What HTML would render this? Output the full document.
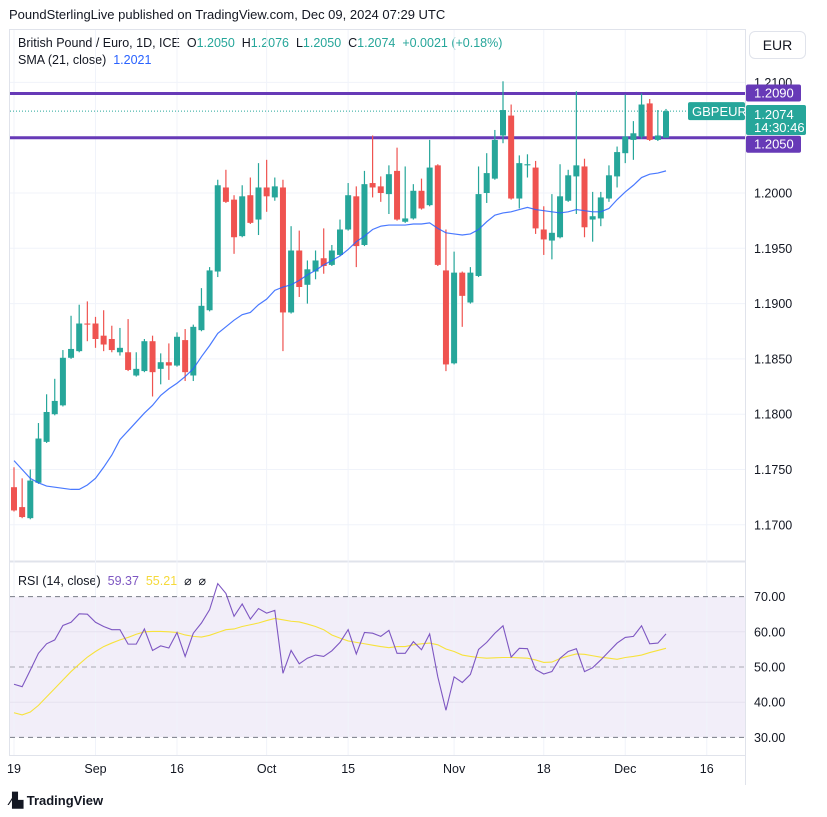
<!DOCTYPE html>
<html><head><meta charset="utf-8">
<style>
body{margin:0;background:#fff;font-family:"Liberation Sans",sans-serif;}
#wrap{position:relative;width:827px;height:817px;overflow:hidden;background:#fff;}
.t{position:absolute;white-space:nowrap;color:#131722;}
</style></head><body>
<div id="wrap">
<div class="t" style="left:9px;top:7px;font-size:13px;">PoundSterlingLive published on TradingView.com, Dec 09, 2024 07:29 UTC</div>
<div class="t" style="left:18px;top:36px;font-size:12.5px;">British Pound / Euro, 1D, ICE &nbsp;<span>O</span><span style="color:#26a69a">1.2050</span> &nbsp;<span>H</span><span style="color:#26a69a">1.2076</span> &nbsp;<span>L</span><span style="color:#26a69a">1.2050</span> &nbsp;<span>C</span><span style="color:#26a69a">1.2074</span> &nbsp;<span style="color:#26a69a">+0.0021 (+0.18%)</span></div>
<div class="t" style="left:18px;top:53px;font-size:12.5px;">SMA (21, close) &nbsp;<span style="color:#2962ff">1.2021</span></div>
<div class="t" style="left:18px;top:573px;font-size:12.5px;">RSI (14, close) &nbsp;<span style="color:#7e57c2">59.37</span> &nbsp;<span style="color:#f5d93a">55.21</span> &nbsp;⌀ &nbsp;⌀</div>
<div class="t" style="left:749px;top:31px;width:55px;height:26px;border:1px solid #e0e3eb;border-radius:6px;font-size:14px;line-height:26px;text-align:center;">EUR</div>
<svg id="svg" width="827" height="817" style="position:absolute;left:0;top:0;pointer-events:none"></svg>
<div class="t" style="left:10px;top:792px;font-size:13px;font-weight:bold;"><span style="font-size:14px;">⁄▙</span> TradingView</div>
</div>
<script>
const categories=["19","Sep","16","Oct","15","Nov","18","Dec","16"];
const catIndex=[0,10,20,31,41,54,65,75,85];
const opens=[1.1734,1.1716,1.1706,1.1738,1.1775,1.1800,1.1808,1.1851,1.1857,1.1882,1.1882,1.1871,1.1868,1.1856,1.1856,1.1835,1.1839,1.1866,1.1841,1.1847,1.1844,1.1867,1.1835,1.1876,1.1894,1.1929,1.2005,1.1994,1.1961,1.1998,1.1976,1.2005,1.1996,1.2005,1.1892,1.1948,1.1917,1.1929,1.1941,1.1935,1.1944,1.1967,1.1997,1.1953,1.2009,1.2006,1.1999,1.2020,1.1974,1.1977,1.2002,1.1989,1.2025,1.1930,1.1846,1.1928,1.1901,1.1925,1.2000,1.2013,1.2052,1.2070,1.1995,1.2025,1.2023,1.1967,1.1957,1.1960,1.1993,1.2015,1.2024,1.1976,1.1977,1.1995,1.2015,1.2036,1.2048,1.2051,1.2081,1.2048,1.2050];
const highs=[1.1752,1.1742,1.1750,1.1792,1.1818,1.1832,1.1858,1.1889,1.1899,1.1902,1.1888,1.1894,1.1880,1.1878,1.1886,1.1856,1.1868,1.1871,1.1855,1.1864,1.1874,1.1877,1.1881,1.1914,1.1933,1.2012,1.2021,1.1998,1.2007,1.2014,1.2027,1.2030,1.2014,1.2012,1.1970,1.1966,1.1939,1.1948,1.1968,1.1953,1.1976,1.2009,1.2006,1.2020,1.2052,1.2015,1.2025,1.2041,1.2024,1.2008,1.2013,1.2048,1.2026,1.1967,1.1947,1.1929,1.1933,1.2024,1.2036,1.2057,1.2101,1.2080,1.2034,1.2035,1.2029,1.1988,1.1999,1.2026,1.2021,1.2092,1.2031,1.2001,1.2001,1.2025,1.2042,1.2089,1.2065,1.2090,1.2085,1.2075,1.2076];
const lows=[1.1712,1.1706,1.1705,1.1737,1.1774,1.1799,1.1807,1.1850,1.1856,1.1866,1.1860,1.1857,1.1856,1.1853,1.1839,1.1834,1.1838,1.1816,1.1827,1.1831,1.1843,1.1830,1.1830,1.1875,1.1893,1.1924,1.1991,1.1945,1.1960,1.1972,1.1962,1.1983,1.1993,1.1857,1.1891,1.1906,1.1900,1.1922,1.1927,1.1934,1.1943,1.1966,1.1933,1.1952,1.1996,1.1992,1.1981,1.1975,1.1973,1.1976,1.1985,1.1988,1.1934,1.1839,1.1845,1.1879,1.1900,1.1924,1.1991,1.2012,1.2045,1.1994,1.1986,1.2014,1.1963,1.1944,1.1940,1.1959,1.1992,1.1981,1.1960,1.1956,1.1970,1.1992,1.2005,1.2027,1.2030,1.2049,1.2047,1.2047,1.2050];
const closes=[1.1713,1.1707,1.1740,1.1778,1.1802,1.1812,1.1851,1.1859,1.1882,1.1881,1.1868,1.1863,1.1858,1.1860,1.1840,1.1841,1.1866,1.1838,1.1847,1.1844,1.1870,1.1838,1.1879,1.1898,1.1930,1.2007,1.1992,1.1960,1.1997,1.1973,1.2005,1.1997,1.2006,1.1892,1.1948,1.1915,1.1931,1.1939,1.1934,1.1948,1.1967,1.1998,1.1952,1.2008,1.2005,1.2000,1.2017,1.1976,1.1977,1.2002,1.1986,1.2023,1.1935,1.1845,1.1928,1.1907,1.1928,1.1999,1.2018,1.2048,1.2075,1.1995,1.2027,1.2026,1.1968,1.1958,1.1964,1.1997,1.2016,1.2025,1.1969,1.1979,1.1996,1.2016,1.2037,1.2051,1.2054,1.2080,1.2048,1.2052,1.2074];
const smaValues=[1.1758,1.1750,1.1742,1.1738,1.1735,1.1734,1.1733,1.1732,1.1732,1.1736,1.1742,1.1752,1.1763,1.1777,1.1785,1.1793,1.1801,1.1808,1.1817,1.1823,1.1828,1.1834,1.1841,1.1852,1.1862,1.1873,1.1879,1.1885,1.1890,1.1892,1.1899,1.1904,1.1912,1.1915,1.1917,1.1921,1.1926,1.1930,1.1935,1.1939,1.1943,1.1949,1.1956,1.1961,1.1967,1.1970,1.1971,1.1971,1.1971,1.1972,1.1972,1.1973,1.1968,1.1964,1.1963,1.1962,1.1963,1.1967,1.1974,1.1980,1.1982,1.1983,1.1985,1.1987,1.1985,1.1984,1.1983,1.1982,1.1983,1.1985,1.1984,1.1983,1.1983,1.1986,1.1994,1.2001,1.2007,1.2014,1.2017,1.2018,1.2020];
const rsiValues=[45.1,44.4,49.1,53.9,56.6,57.7,61.8,62.7,65.1,65.0,62.7,61.5,60.6,60.6,56.5,56.5,60.8,54.7,56.0,55.4,59.8,53.0,59.6,62.5,66.3,73.7,70.9,64.4,67.9,63.6,66.6,65.3,66.1,48.2,54.7,50.9,52.5,53.4,53.0,54.6,57.0,60.6,53.7,59.8,59.6,58.7,60.4,53.9,53.9,57.2,54.9,59.4,47.2,37.7,47.2,45.6,47.9,55.0,57.0,59.6,61.7,52.8,55.3,55.2,49.3,48.0,48.7,52.5,54.4,55.2,48.7,49.8,52.0,54.4,56.8,58.4,58.7,61.7,56.6,56.8,59.4];
const rsiMaValues=[37.0,36.4,37.2,39.1,41.5,43.9,46.3,48.7,50.8,52.8,54.4,55.8,56.8,57.7,58.4,59.3,60.0,60.1,60.1,60.0,59.8,59.1,58.7,58.5,59.0,59.8,60.6,60.8,61.5,62.0,62.5,63.2,63.8,63.4,63.0,62.8,62.2,61.5,60.6,59.1,58.2,57.4,57.0,56.6,56.2,55.8,55.5,55.8,55.8,56.3,56.6,56.8,56.3,55.1,54.4,53.4,53.0,52.7,52.5,52.6,52.7,52.7,52.6,52.5,52.0,51.3,51.4,52.4,53.1,53.7,53.6,53.2,52.8,52.5,52.2,52.7,53.0,53.4,54.1,54.7,55.3];
const priceTicks=[1.2100,1.2000,1.1950,1.1900,1.1850,1.1800,1.1750,1.1700];
const rsiTicks=[70,60,50,40,30];
const levelLines=[1.2090,1.2050];

const NS="http://www.w3.org/2000/svg";
const svg=document.getElementById('svg');
const X=i=>14+8.15*i;
const Y=p=>193-(p-1.2)*11060;
const RY=v=>667-(v-50)*3.52;
function el(tag,a,parent){const e=document.createElementNS(NS,tag);for(const k in a)e.setAttribute(k,a[k]);(parent||svg).appendChild(e);return e;}
function txt(x,y,s,a){const e=el('text',Object.assign({x:x,y:y,'font-family':'Liberation Sans, sans-serif','font-size':12.5,fill:'#131722'},a||{}));e.textContent=s;return e;}

let e;
e=el('rect',{x:9.5,y:29.5,width:736,height:726,fill:'none',stroke:'#e0e3eb'});


e=el('rect',{x:10,y:RY(70),width:735,height:RY(30)-RY(70),fill:'#7e57c2','fill-opacity':0.1});


e=el('line',{x1:10,x2:745,y1:561.5,y2:561.5,stroke:'#e0e3eb','stroke-width':2});


e=el('line',{x1:745.5,x2:745.5,y1:29,y2:785,stroke:'#e0e3eb'});


categories.forEach((c,k)=>{const x=X(catIndex[k]);
 if(x<745){e=el('line',{x1:x,x2:x,y1:30,y2:755,stroke:'#f0f3fa'});
 
 }
 e=txt(x,773,c,{'text-anchor':'middle','font-size':12.5});
 
 });
priceTicks.forEach(p=>{const y=Y(p);
 e=el('line',{x1:10,x2:745,y1:y,y2:y,stroke:'#f0f3fa'});
 
 
 e=txt(754,y+4.5,p.toFixed(4));
 
 });
rsiTicks.forEach(v=>{const y=RY(v);
 if(v==70||v==50||v==30){e=el('line',{x1:10,x2:745,y1:y,y2:y,stroke:'#787b86','stroke-dasharray':'5,4','stroke-opacity':v==50?0.6:1});}
 else {e=el('line',{x1:10,x2:745,y1:y,y2:y,stroke:'#e6e2f0'});}
 
 
 e=txt(754,y+4.5,v.toFixed(2));
 
 });
e=el('line',{x1:10,x2:690,y1:Y(closes[closes.length-1]),y2:Y(closes[closes.length-1]),stroke:'#26a69a','stroke-dasharray':'1,2'});


const tagOffset=[-1,6];
levelLines.forEach((p,k)=>{const y=Y(p);
 e=el('line',{x1:10,x2:745,y1:y,y2:y,stroke:'#673ab7','stroke-width':3});
 
 
 const ty=y+tagOffset[k];
 e=el('rect',{x:746,y:ty-8,width:55,height:17,rx:2,fill:'#673ab7'});
 
 
 e=txt(754,ty+5,p.toFixed(4),{fill:'#fff','font-size':13});
 
 });
opens.forEach((o,i)=>{const c=closes[i],x=X(i),col=c>=o?'#26a69a':'#ef5350';
 const g=el('g',{});
 
 
 el('line',{x1:x,x2:x,y1:Y(highs[i]),y2:Y(lows[i]),stroke:col,'stroke-width':1.2},g);
 const t=Y(Math.max(o,c)),b=Y(Math.min(o,c));
 el('rect',{x:x-3,y:t,width:6,height:Math.max(1,b-t),fill:col},g);});
e=el('polyline',{points:smaValues.map((v,i)=>X(i)+','+Y(v)).join(' '),fill:'none',stroke:'#2962ff','stroke-width':1.2,'stroke-opacity':0.85});


e=el('polyline',{points:rsiMaValues.map((v,i)=>X(i)+','+RY(v)).join(' '),fill:'none',stroke:'#f7e23c','stroke-width':1.1});


e=el('polyline',{points:rsiValues.map((v,i)=>X(i)+','+RY(v)).join(' '),fill:'none',stroke:'#7e57c2','stroke-width':1.1});


const ly=Y(closes[closes.length-1]);
e=el('rect',{x:688,y:ly-9,width:57,height:18,rx:2,fill:'#26a69a'});


e=txt(692,ly+5,'GBPEUR',{fill:'#fff','font-size':13});


e=el('rect',{x:746,y:105,width:60,height:30,rx:2,fill:'#26a69a'});


e=txt(754,119,closes[closes.length-1].toFixed(4),{fill:'#fff','font-size':13});


e=txt(754,132,'14:30:46',{fill:'#fff','font-size':13});


</script>
</body></html>
